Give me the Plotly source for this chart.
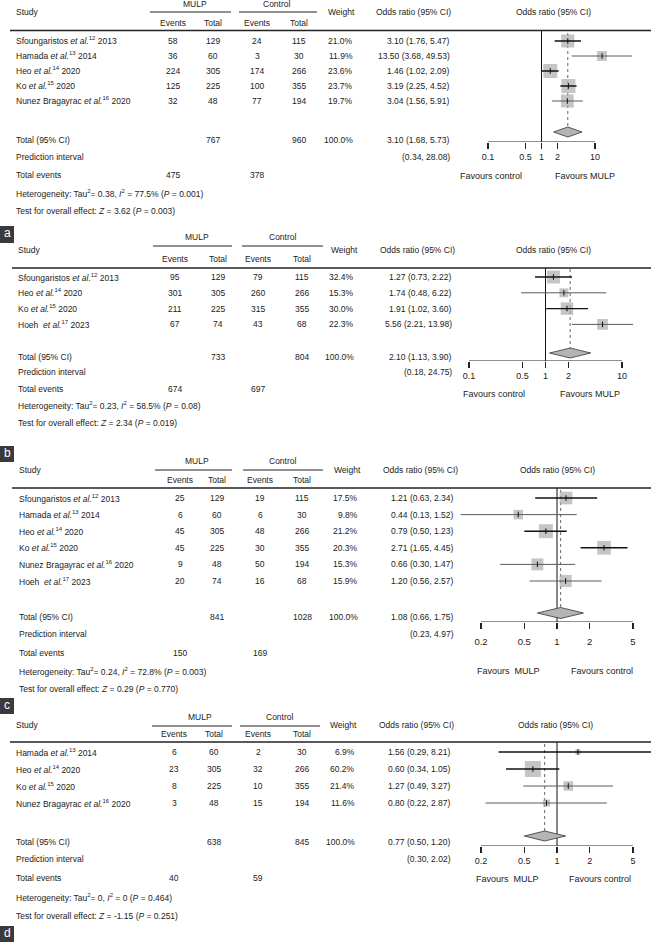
import plotly.graph_objects as go

W, H = 651, 943

# ---------------- data: panel a ----------------
A_STUDY = ["Sfoungaristos <i>et al.</i><sup>12</sup> 2013", "Hamada <i>et al.</i><sup>13</sup> 2014",
           "Heo <i>et al.</i><sup>14</sup> 2020", "Ko <i>et al.</i><sup>15</sup> 2020",
           "Nunez Bragayrac <i>et al.</i><sup>16</sup> 2020"]
A_EV_MULP = [58, 36, 224, 125, 32]
A_N_MULP = [129, 60, 305, 225, 48]
A_EV_CTRL = [24, 3, 174, 100, 77]
A_N_CTRL = [115, 30, 266, 355, 194]
A_WEIGHT = [21.0, 11.9, 23.6, 23.7, 19.7]
A_OR = [3.10, 13.50, 1.46, 3.19, 3.04]
A_LO = [1.76, 3.68, 1.02, 2.25, 1.56]
A_HI = [5.47, 49.53, 2.09, 4.52, 5.91]
A_TOTAL_N = [767, 960]
A_TOTAL_W = 100.0
A_TOTAL_EV = [475, 378]
A_POOLED = [3.10, 1.68, 5.73]
A_PRED = [0.34, 28.08]
A_HET = "Heterogeneity: Tau<sup>2</sup>= 0.38, <i>I</i><sup>2</sup> = 77.5% (<i>P</i> = 0.001)"
A_TEST = "Test for overall effect: <i>Z</i> = 3.62 (<i>P</i> = 0.003)"
A_TICKS = [0.1, 0.5, 1, 2, 10]
A_FAVOURS = ["Favours control", "Favours MULP"]

# ---------------- data: panel b ----------------
B_STUDY = ["Sfoungaristos <i>et al.</i><sup>12</sup> 2013", "Heo <i>et al.</i><sup>14</sup> 2020",
           "Ko <i>et al.</i><sup>15</sup> 2020", "Hoeh\u00a0 <i>et al.</i><sup>17</sup> 2023"]
B_EV_MULP = [95, 301, 211, 67]
B_N_MULP = [129, 305, 225, 74]
B_EV_CTRL = [79, 260, 315, 43]
B_N_CTRL = [115, 266, 355, 68]
B_WEIGHT = [32.4, 15.3, 30.0, 22.3]
B_OR = [1.27, 1.74, 1.91, 5.56]
B_LO = [0.73, 0.48, 1.02, 2.21]
B_HI = [2.22, 6.22, 3.60, 13.98]
B_TOTAL_N = [733, 804]
B_TOTAL_W = 100.0
B_TOTAL_EV = [674, 697]
B_POOLED = [2.10, 1.13, 3.90]
B_PRED = [0.18, 24.75]
B_HET = "Heterogeneity: Tau<sup>2</sup>= 0.23, <i>I</i><sup>2</sup> = 58.5% (<i>P</i> = 0.08)"
B_TEST = "Test for overall effect: <i>Z</i> = 2.34 (<i>P</i> = 0.019)"
B_TICKS = [0.1, 0.5, 1, 2, 10]
B_FAVOURS = ["Favours control", "Favours MULP"]

# ---------------- data: panel c ----------------
C_STUDY = ["Sfoungaristos <i>et al.</i><sup>12</sup> 2013", "Hamada <i>et al.</i><sup>13</sup> 2014",
           "Heo <i>et al.</i><sup>14</sup> 2020", "Ko <i>et al.</i><sup>15</sup> 2020",
           "Nunez Bragayrac <i>et al.</i><sup>16</sup> 2020", "Hoeh\u00a0 <i>et al.</i><sup>17</sup> 2023"]
C_EV_MULP = [25, 6, 45, 45, 9, 20]
C_N_MULP = [129, 60, 305, 225, 48, 74]
C_EV_CTRL = [19, 6, 48, 30, 50, 16]
C_N_CTRL = [115, 30, 266, 355, 194, 68]
C_WEIGHT = [17.5, 9.8, 21.2, 20.3, 15.3, 15.9]
C_OR = [1.21, 0.44, 0.79, 2.71, 0.66, 1.20]
C_LO = [0.63, 0.13, 0.50, 1.65, 0.30, 0.56]
C_HI = [2.34, 1.52, 1.23, 4.45, 1.47, 2.57]
C_TOTAL_N = [841, 1028]
C_TOTAL_W = 100.0
C_TOTAL_EV = [150, 169]
C_POOLED = [1.08, 0.66, 1.75]
C_PRED = [0.23, 4.97]
C_HET = "Heterogeneity: Tau<sup>2</sup>= 0.24, <i>I</i><sup>2</sup> = 72.8% (<i>P</i> = 0.003)"
C_TEST = "Test for overall effect: <i>Z</i> = 0.29 (<i>P</i> = 0.770)"
C_TICKS = [0.2, 0.5, 1, 2, 5]
C_FAVOURS = ["Favours\u00a0 MULP", "Favours control"]

# ---------------- data: panel d ----------------
D_STUDY = ["Hamada <i>et al.</i><sup>13</sup> 2014", "Heo <i>et al.</i><sup>14</sup> 2020",
           "Ko <i>et al.</i><sup>15</sup> 2020", "Nunez Bragayrac <i>et al.</i><sup>16</sup> 2020"]
D_EV_MULP = [6, 23, 8, 3]
D_N_MULP = [60, 305, 225, 48]
D_EV_CTRL = [2, 32, 10, 15]
D_N_CTRL = [30, 266, 355, 194]
D_WEIGHT = [6.9, 60.2, 21.4, 11.6]
D_OR = [1.56, 0.60, 1.27, 0.80]
D_LO = [0.29, 0.34, 0.49, 0.22]
D_HI = [8.21, 1.05, 3.27, 2.87]
D_TOTAL_N = [638, 845]
D_TOTAL_W = 100.0
D_TOTAL_EV = [40, 59]
D_POOLED = [0.77, 0.50, 1.20]
D_PRED = [0.30, 2.02]
D_HET = "Heterogeneity: Tau<sup>2</sup>= 0, <i>I</i><sup>2</sup> = 0 (<i>P</i> = 0.464)"
D_TEST = "Test for overall effect: <i>Z</i> = -1.15 (<i>P</i> = 0.251)"
D_TICKS = [0.2, 0.5, 1, 2, 5]
D_FAVOURS = ["Favours\u00a0 MULP", "Favours control"]

PANEL_LETTERS = ["a", "b", "c", "d"]

# ---------------- layout (pixel positions, styles) ----------------
LAYOUTS = [
    dict(sx=15, cols=[173, 213, 257, 299], mulp=195, ctrl=277, ul_m=(150, 231), ul_c=(239, 317),
         wr=354, wh=342, orr=451, orh=413, fph=553, hl_x0=10,
         y_group=4, y_ul=12, y_study=12, y_ev=23, y_hl=30.5, row0=41, drow=15,
         y_dia=132, dia_h=5, y_axis=142, y_total=140, y_pi=157, y_te=175, y_het=193, y_test=211,
         y_fav=176, fav_x=[491, 585], c1=541.5, dec=53.5, x0=455, smax=14, tsize=9, tstand=0,
         ci_dark=[True, False, True, True, False], box=(226, 243)),
    dict(sx=17, cols=[175, 218, 258, 302], mulp=197, ctrl=283, ul_m=(153, 232), ul_c=(242, 323),
         wr=355, wh=344, orr=453, orh=417, fph=553, hl_x0=12,
         y_group=237, y_ul=246, y_study=250, y_ev=259, y_hl=268, row0=277, drow=15.8,
         y_dia=353, dia_h=5, y_axis=361, y_total=357, y_pi=372, y_te=389, y_het=406, y_test=423,
         y_fav=394, fav_x=[494, 590], c1=545.5, dec=76.5, x0=455, smax=13, tsize=9, tstand=0,
         ci_dark=[True, False, True, False], box=(446, 462)),
    dict(sx=18, cols=[180, 217, 260, 302], mulp=197, ctrl=283, ul_m=(155, 232), ul_c=(243, 323),
         wr=359, wh=347, orr=455, orh=420, fph=557, hl_x0=12,
         y_group=461, y_ul=470, y_study=470, y_ev=480, y_hl=488, row0=498, drow=16.6,
         y_dia=613, dia_h=5.5, y_axis=622, y_total=617, y_pi=634, y_te=653, y_het=671, y_test=689,
         y_fav=671, fav_x=[508, 602], c1=557, dec=108.7, x0=455, smax=14, tsize=9.5, tstand=5,
         ci_dark=[True, False, True, True, False, False], box=(698, 714)),
    dict(sx=15, cols=[174, 214, 258, 302], mulp=200, ctrl=280, ul_m=(152, 232), ul_c=(240, 320),
         wr=356, wh=343, orr=452, orh=416, fph=555, hl_x0=10,
         y_group=717, y_ul=726, y_study=725, y_ev=734, y_hl=742, row0=752, drow=17,
         y_dia=836, dia_h=5, y_axis=846, y_total=842, y_pi=859, y_te=878, y_het=897, y_test=916,
         y_fav=879, fav_x=[507, 600], c1=557, dec=108.7, x0=455, smax=16, tsize=9, tstand=0,
         ci_dark=[True, True, False, False], box=(926, 942)),
]

DATA = [
    dict(study=A_STUDY, evm=A_EV_MULP, nm=A_N_MULP, evc=A_EV_CTRL, nc=A_N_CTRL, w=A_WEIGHT,
         orv=A_OR, lo=A_LO, hi=A_HI, tn=A_TOTAL_N, tw=A_TOTAL_W, tev=A_TOTAL_EV, pooled=A_POOLED,
         pred=A_PRED, het=A_HET, test=A_TEST, ticks=A_TICKS, fav=A_FAVOURS),
    dict(study=B_STUDY, evm=B_EV_MULP, nm=B_N_MULP, evc=B_EV_CTRL, nc=B_N_CTRL, w=B_WEIGHT,
         orv=B_OR, lo=B_LO, hi=B_HI, tn=B_TOTAL_N, tw=B_TOTAL_W, tev=B_TOTAL_EV, pooled=B_POOLED,
         pred=B_PRED, het=B_HET, test=B_TEST, ticks=B_TICKS, fav=B_FAVOURS),
    dict(study=C_STUDY, evm=C_EV_MULP, nm=C_N_MULP, evc=C_EV_CTRL, nc=C_N_CTRL, w=C_WEIGHT,
         orv=C_OR, lo=C_LO, hi=C_HI, tn=C_TOTAL_N, tw=C_TOTAL_W, tev=C_TOTAL_EV, pooled=C_POOLED,
         pred=C_PRED, het=C_HET, test=C_TEST, ticks=C_TICKS, fav=C_FAVOURS),
    dict(study=D_STUDY, evm=D_EV_MULP, nm=D_N_MULP, evc=D_EV_CTRL, nc=D_N_CTRL, w=D_WEIGHT,
         orv=D_OR, lo=D_LO, hi=D_HI, tn=D_TOTAL_N, tw=D_TOTAL_W, tev=D_TOTAL_EV, pooled=D_POOLED,
         pred=D_PRED, het=D_HET, test=D_TEST, ticks=D_TICKS, fav=D_FAVOURS),
]

TXT = "#222222"
FS = 8.5

fig = go.Figure()
annotations = []
shapes = []


def P(x):
    return x / W


def Q(y):
    return 1 - y / H


def txt(x, y, s, anchor="left", size=FS, color=TXT):
    annotations.append(dict(x=P(x), y=Q(y), xref="paper", yref="paper", text=s, showarrow=False,
                            xanchor=anchor, yanchor="middle", font=dict(size=size, color=color),
                            borderpad=0))


def hline(x0, x1, y, w=1.0, color=TXT):
    shapes.append(dict(type="line", xref="paper", yref="paper", x0=P(x0), x1=P(x1), y0=Q(y), y1=Q(y),
                       line=dict(color=color, width=w)))


layout_axes = {}

for i, (D, L) in enumerate(zip(DATA, LAYOUTS), start=1):
    xa = "x" if i == 1 else f"x{i}"
    ya = "y" if i == 1 else f"y{i}"
    xk = "xaxis" if i == 1 else f"xaxis{i}"
    yk = "yaxis" if i == 1 else f"yaxis{i}"
    n = len(D["study"])
    rows = [L["row0"] + k * L["drow"] for k in range(n)]

    # ---- table headers ----
    txt(L["sx"], L["y_study"], "Study")
    txt(L["mulp"], L["y_group"], "MULP", "center")
    txt(L["ctrl"], L["y_group"], "Control", "center")
    hline(*L["ul_m"], L["y_ul"], 1.0)
    hline(*L["ul_c"], L["y_ul"], 1.0)
    for x, s in zip(L["cols"], ["Events", "Total", "Events", "Total"]):
        txt(x, L["y_ev"], s, "center")
    txt(L["wh"], L["y_study"], "Weight", "center")
    txt(L["orh"], L["y_study"], "Odds ratio (95% CI)", "center")
    txt(L["fph"], L["y_study"], "Odds ratio (95% CI)", "center")
    hline(L["hl_x0"], W, L["y_hl"], 1.3)

    # ---- study rows ----
    for k in range(n):
        y = rows[k]
        txt(L["sx"], y, D["study"][k])
        for x, v in zip(L["cols"], [D["evm"][k], D["nm"][k], D["evc"][k], D["nc"][k]]):
            txt(x, y, str(v), "center")
        txt(L["wr"], y, f"{D['w'][k]:.1f}%", "right")
        txt(L["orr"], y, f"{D['orv'][k]:.2f} ({D['lo'][k]:.2f}, {D['hi'][k]:.2f})", "right")

    # ---- footer rows ----
    txt(L["sx"], L["y_total"], "Total (95% CI)")
    txt(L["cols"][1], L["y_total"], str(D["tn"][0]), "center")
    txt(L["cols"][3], L["y_total"], str(D["tn"][1]), "center")
    txt(L["wr"], L["y_total"], f"{D['tw']:.1f}%", "right")
    pe, plo, phi = D["pooled"]
    txt(L["orr"], L["y_total"], f"{pe:.2f} ({plo:.2f}, {phi:.2f})", "right")
    txt(L["sx"], L["y_pi"], "Prediction interval")
    txt(L["orr"], L["y_pi"], f"({D['pred'][0]:.2f}, {D['pred'][1]:.2f})", "right")
    txt(L["sx"], L["y_te"], "Total events")
    txt(L["cols"][0], L["y_te"], str(D["tev"][0]), "center")
    txt(L["cols"][2], L["y_te"], str(D["tev"][1]), "center")
    txt(L["sx"], L["y_het"], D["het"])
    txt(L["sx"], L["y_test"], D["test"])

    # favours labels
    txt(L["fav_x"][0], L["y_fav"], D["fav"][0], "center", size=9)
    txt(L["fav_x"][1], L["y_fav"], D["fav"][1], "center", size=9)

    # panel letter box
    shapes.append(dict(type="rect", xref="paper", yref="paper", x0=0, x1=P(14),
                       y0=Q(L["box"][1]), y1=Q(L["box"][0]), fillcolor="#3a3a3a",
                       line=dict(width=0)))
    annotations.append(dict(x=P(7), y=Q((L["box"][0] + L["box"][1]) / 2 - 1), xref="paper",
                            yref="paper", text=PANEL_LETTERS[i - 1], showarrow=False,
                            xanchor="center", yanchor="middle", borderpad=0,
                            font=dict(size=12, color="white")))

    # ---- forest plot ----
    fig.add_trace(go.Scatter(x=[1, 1], y=[L["y_hl"], L["y_axis"]], mode="lines",
                             line=dict(color="#111111", width=1), xaxis=xa, yaxis=ya,
                             hoverinfo="skip", showlegend=False))
    fig.add_trace(go.Scatter(x=[pe, pe], y=[rows[0] - 8, L["y_dia"] - L["dia_h"]], mode="lines",
                             line=dict(color="#666666", width=1, dash="dot"), xaxis=xa, yaxis=ya,
                             hoverinfo="skip", showlegend=False))
    fig.add_trace(go.Scatter(x=[D["ticks"][0], D["ticks"][-1]], y=[L["y_axis"], L["y_axis"]],
                             mode="lines", line=dict(color="#222222", width=1.2), xaxis=xa, yaxis=ya,
                             hoverinfo="skip", showlegend=False, cliponaxis=False))
    wmax = max(D["w"])
    sizes = [L["smax"] * (wv / wmax) ** 0.5 for wv in D["w"]]
    fig.add_trace(go.Scatter(x=D["orv"], y=rows, mode="markers",
                             marker=dict(symbol="square", size=sizes, color="#acacac",
                                         line=dict(width=0)),
                             xaxis=xa, yaxis=ya, hoverinfo="skip", showlegend=False))
    for k in range(n):
        dark = L["ci_dark"][k]
        fig.add_trace(go.Scatter(x=[D["lo"][k], D["hi"][k]], y=[rows[k], rows[k]], mode="lines",
                                 line=dict(color="#111111" if dark else "#5a5a5a",
                                           width=1.4 if dark else 1.0),
                                 xaxis=xa, yaxis=ya, hoverinfo="skip", showlegend=False))
    fig.add_trace(go.Scatter(x=D["orv"], y=rows, mode="markers",
                             marker=dict(symbol="line-ns", size=4, line=dict(color="#111111", width=1)),
                             xaxis=xa, yaxis=ya, hoverinfo="skip", showlegend=False))
    yd, hd = L["y_dia"], L["dia_h"]
    fig.add_trace(go.Scatter(x=[plo, pe, phi, pe, plo], y=[yd, yd - hd, yd, yd + hd, yd],
                             mode="lines", fill="toself", fillcolor="#b4b4b4",
                             line=dict(color="#333333", width=0.8), xaxis=xa, yaxis=ya,
                             hoverinfo="skip", showlegend=False))

    layout_axes[xk] = dict(type="log", domain=[P(L["x0"]), 1.0],
                           range=[(L["x0"] - L["c1"]) / L["dec"], (W - L["c1"]) / L["dec"]],
                           tickvals=D["ticks"], ticktext=[f"{t:g}" for t in D["ticks"]],
                           ticks="outside", ticklen=6, tickwidth=1.2, tickcolor="#222222",
                           ticklabelstandoff=L["tstand"],
                           showline=False, showgrid=False, zeroline=False, anchor=ya,
                           tickfont=dict(size=L["tsize"], color=TXT), fixedrange=True)
    layout_axes[yk] = dict(domain=[Q(L["y_axis"]), Q(L["y_hl"])], range=[L["y_axis"], L["y_hl"]],
                           visible=False, anchor=xa, fixedrange=True)

fig.update_layout(
    width=W, height=H, margin=dict(l=0, r=0, t=0, b=0),
    paper_bgcolor="white", plot_bgcolor="rgba(0,0,0,0)",
    font=dict(family="Liberation Sans, Arial, sans-serif", size=FS, color=TXT),
    annotations=annotations, shapes=shapes, showlegend=False, hovermode=False,
    **layout_axes,
)

fig.write_html("out.html", config={"displayModeBar": False, "staticPlot": True},
               post_script="document.body.style.margin='0px';document.body.style.padding='0px';"
                           "document.body.style.overflow='hidden';")
